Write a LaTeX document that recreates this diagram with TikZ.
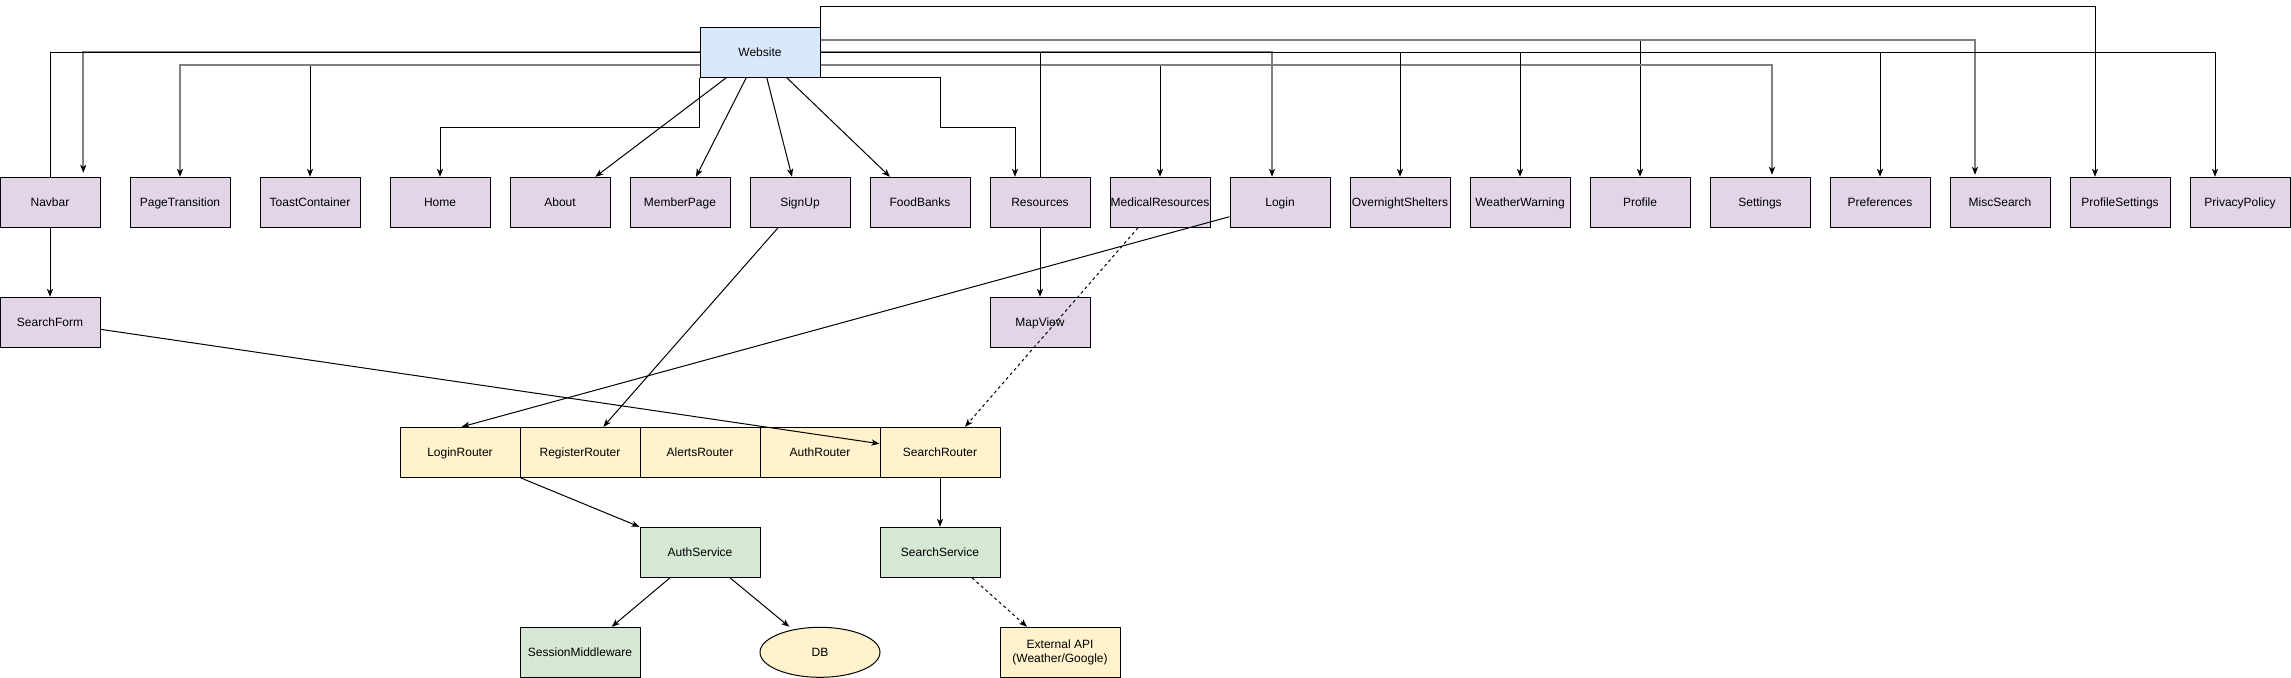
\documentclass[tikz,border=0pt]{standalone}
\usepackage{fontspec}
\setmainfont{Liberation Sans}
\usetikzlibrary{arrows.meta,shapes.geometric,calc}
\pgfdeclarelayer{background}
\pgfsetlayers{background,main}
\definecolor{wblue}{HTML}{DAE8FC}
\definecolor{wpurple}{HTML}{E1D5E7}
\definecolor{wyellow}{HTML}{FFF2CC}
\definecolor{wgreen}{HTML}{D5E8D4}
\definecolor{halfgray}{HTML}{808080}
\begin{document}
\begin{tikzpicture}[x=0.75pt,y=-0.75pt,
  box/.style={draw=black, line width=0.75pt, minimum width=75pt, minimum height=37.5pt,
    inner sep=0pt, font=\fontsize{9}{11}\selectfont, align=center,
    text height=7.6pt, text depth=1.2pt},
  comp/.style={box, fill=wpurple},
  router/.style={box, fill=wyellow, minimum width=90pt},
  service/.style={box, fill=wgreen, minimum width=90pt},
  tipk/.tip={Stealth[length=6pt,width=4.6pt,inset=1.6pt,color=black]},
  ln/.style={line width=0.75pt, draw=black, -tipk},
  gln/.style={line width=1.5pt, draw=halfgray, -tipk},
  dln/.style={ln, dash pattern=on 2.25pt off 2.25pt}]
\useasboundingbox (0,0) rectangle (2291,678);

% ---------- nodes ----------
\node[box, fill=wblue, minimum width=90pt] (website) at (760,52.3) {Website};

\node[comp] (navbar)          at (50,202.3)   {Navbar};
\node[comp] (pagetransition)  at (180,202.3)  {PageTransition};
\node[comp] (toast)           at (310,202.3)  {ToastContainer};
\node[comp] (home)            at (440,202.3)  {Home};
\node[comp] (about)           at (560,202.3)  {About};
\node[comp] (memberpage)      at (680,202.3)  {MemberPage};
\node[comp] (signup)          at (800,202.3)  {SignUp};
\node[comp] (foodbanks)       at (920,202.3)  {FoodBanks};
\node[comp] (resources)       at (1040,202.3) {Resources};
\node[comp] (medical)         at (1160,202.3) {MedicalResources};
\node[comp] (login)           at (1280,202.3) {Login};
\node[comp] (overnight)       at (1400,202.3) {OvernightShelters};
\node[comp] (weather)         at (1520,202.3) {WeatherWarning};
\node[comp] (profile)         at (1640,202.3) {Profile};
\node[comp] (settings)        at (1760,202.3) {Settings};
\node[comp] (preferences)     at (1880,202.3) {Preferences};
\node[comp] (miscsearch)      at (2000,202.3) {MiscSearch};
\node[comp] (profilesettings) at (2120,202.3) {ProfileSettings};
\node[comp] (privacy)         at (2240,202.3) {PrivacyPolicy};

\node[comp] (searchform) at (50,322.3)   {SearchForm};
\node[comp] (mapview)    at (1040,322.3) {MapView};

\node[router] (loginrouter)    at (460,452.3) {LoginRouter};
\node[router] (registerrouter) at (580,452.3) {RegisterRouter};
\node[router] (alertsrouter)   at (700,452.3) {AlertsRouter};
\node[router] (authrouter)     at (820,452.3) {AuthRouter};
\node[router] (searchrouter)   at (940,452.3) {SearchRouter};

\node[service] (authservice)   at (700,552.3) {AuthService};
\node[service] (searchservice) at (940,552.3) {SearchService};

\node[service] (session) at (580,652.3) {SessionMiddleware};
\node[box, ellipse, fill=wyellow, minimum width=90pt] (db) at (820,652.3) {DB};
\node[router, text height=, text depth=] (extapi) at (1060,652.3) {External API\\(Weather/Google)};

% ---------- orthogonal Website connectors (behind boxes) ----------
\begin{pgfonlayer}{background}
  % black ones that are partly overdrawn by grey ones
  \draw[ln] ($(website.west)+(0,13)$) -| (toast.north);
  \draw[ln] ($(website.east)+(0,13)$) -| (medical.north);
  \draw[ln] ($(website.east)+(0,-12)$) -| (profile.north);
  % grey (half-pixel) ones
  \draw[gln] ($(website.west)+(0,13)$) -| (pagetransition.north);
  \draw[gln] ($(website.east)+(0,13)$) -| ($(settings.north)+(12,-2)$);
  \draw[gln] ($(website.east)+(0,-12)$) -| ($(miscsearch.north)+(-25,-2)$);
  \draw[gln] (website.east) -| ($(login.north)+(-8,0)$);
  \draw[gln] (website.west) -| ($(navbar.north)+(33.3,-4)$);
  % black ones on top
  \draw[ln] (website.west) -| (searchform.north);
  \draw[ln] (website.east) -| (mapview.north);
  \draw[ln] (website.east) -| (overnight.north);
  \draw[ln] (website.east) -| (weather.north);
  \draw[ln] (website.east) -| (preferences.north);
  \draw[ln] (website.east) -| ($(privacy.north)+(-25,0)$);
  \draw[ln] (website.north east) -- ++(0,-20) -| ($(profilesettings.north)+(-25,0)$);
  \draw[ln] (website.south west) -- ++(0,49.4) -| (home.north);
  \draw[ln] (website.south east) -- ++(120,0) -- ++(0,49.4) -| ($(resources.north)+(-25,0)$);
\end{pgfonlayer}

% ---------- diagonal connectors ----------
\draw[ln] ($(website.south west)+(26.7,0)$) -- ($(about.north)+(35.4,0)$);
\draw[ln] ($(website.south west)+(46.7,0)$) -- ($(memberpage.north)+(16,0)$);
\draw[ln] ($(website.south west)+(67.3,0)$) -- ($(signup.north)+(-8,0)$);
\draw[ln] ($(website.south west)+(87.3,0)$) -- ($(foodbanks.north)+(-30,0)$);

\draw[ln] ($(signup.south)+(-22,0)$) -- ($(registerrouter.north)+(23.3,0)$);
\draw[ln] ($(login.west)+(0,14.4)$) -- ($(loginrouter.north)+(1.7,0)$);
\draw[ln] ($(searchform.east)+(0,7)$) -- ($(searchrouter.west)+(0,-8.6)$);
\draw[dln] ($(medical.south)+(-22,0)$) -- ($(searchrouter.north)+(25,0)$);
\draw[ln] (loginrouter.south east) -- (authservice.north west);
\draw[ln] (searchrouter.south) -- (searchservice.north);
\draw[ln] ($(authservice.south)+(-30,0)$) -- ($(session.north)+(31.7,0)$);
\draw[ln] ($(authservice.south)+(30,0)$) -- ($(db.north)+(-30.7,0)$);
\draw[dln] ($(searchservice.south)+(32,0)$) -- ($(extapi.north)+(-33,0)$);

\end{tikzpicture}
\end{document}
